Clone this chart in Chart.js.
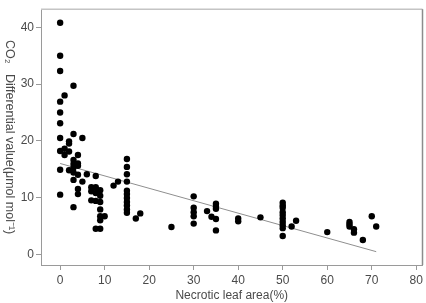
<!DOCTYPE html>
<html>
<head>
<meta charset="utf-8">
<script src="https://cdn.jsdelivr.net/npm/chart.js@4/dist/chart.umd.min.js"></script>
<style>
  html, body { margin: 0; padding: 0; background: #fff; }
  #wrap { width: 426px; height: 303px; position: relative; }
</style>
</head>
<body>
<div id="wrap"><canvas id="chart-1"></canvas></div>
<script>
/************************ data *****************************************************/

// necrotic leaf area (%) of each sample
const necroticArea = [
  0, 0, 0, 0, 0, 0, 0, 0, 0, 0,
  1, 1, 1,
  2, 2, 2, 2,
  3, 3, 3, 3, 3, 3, 3, 3,
  4, 4, 4, 4, 4, 4,
  5, 5,
  6,
  7, 7, 7,
  8, 8, 8, 8, 8,
  9, 9, 9, 9, 9, 9, 9,
  10, 12, 13,
  15, 15, 15, 15, 15, 15, 15, 15, 15, 15, 15,
  17, 18, 25,
  30, 30, 30, 30, 30,
  33, 34,
  35, 35, 35, 35, 35,
  40, 40, 45,
  50, 50, 50, 50, 50, 50, 50, 50, 50, 50,
  52, 53, 60,
  65, 65, 65, 66, 66,
  68, 70, 71
];

// CO2 differential value (umol mol-1) of each sample
const co2Diff = [
  40.8, 35.0, 32.3, 26.9, 25.0, 23.1, 20.5, 18.2, 14.9, 10.5,
  28.0, 18.6, 17.5,
  19.9, 19.5, 18.1, 14.8,
  29.7, 21.2, 16.6, 15.9, 15.3, 14.4, 13.1, 8.3,
  17.5, 16.0, 15.6, 14.0, 11.5, 10.6,
  20.5, 12.8,
  14.1,
  11.8, 11.1, 9.5,
  13.8, 11.8, 10.8, 9.4, 4.5,
  11.3, 10.3, 9.2, 7.9, 6.7, 6.0, 4.5,
  6.7, 12.1, 12.8,
  16.8, 15.4, 14.1, 12.8, 11.2, 10.6, 9.9, 9.2, 8.6, 7.9, 7.3,
  6.3, 7.2, 4.8,
  10.2, 8.2, 7.4, 6.7, 5.4,
  7.6, 6.6,
  8.9, 8.4, 8.0, 6.2, 4.2,
  6.3, 5.8, 6.5,
  9.1, 8.6, 8.2, 7.4, 6.9, 6.3, 5.7, 5.1, 4.6, 3.2,
  4.9, 5.9, 3.9,
  5.7, 5.3, 4.9, 4.4, 3.8,
  2.5, 6.7, 4.9
];

// fitted line end points
const trendX = [0, 71];
const trendY = [16.0, 0.45];

// tick labels
const xTicks = [0, 10, 20, 30, 40, 50, 60, 70, 80];
const yTicks = [0, 10, 20, 30, 40];

const xTitle = "Necrotic leaf area(%)";
const yTitle = "CO\u2082   Differential value(\u03bcmol mol\u207b\u00b9)";

/************************ building the datasets *********************************/

const points = necroticArea.map((v, i) => ({ x: v, y: co2Diff[i] }));
const trend = trendX.map((v, i) => ({ x: v, y: trendY[i] }));

const FONT = { family: "'Liberation Sans', Arial, sans-serif", size: 12 };
const TEXT = "#4a4a4a";
const AXIS = "#9a9a9a";

// top and right border of the plot box + y title (reads top to bottom)
const frame = {
  id: "frame",
  afterDraw(chart) {
    const a = chart.chartArea;
    const c = chart.ctx;
    c.save();
    c.lineWidth = 1.5;
    c.strokeStyle = "#c4c4c4";
    c.beginPath();
    c.moveTo(a.left, a.top);
    c.lineTo(a.right, a.top);
    c.stroke();
    c.strokeStyle = "#8c8c8c";
    c.beginPath();
    c.moveTo(a.right, a.top);
    c.lineTo(a.right, a.bottom);
    c.stroke();
    c.restore();

    c.save();
    c.translate(9, (a.top + a.bottom) / 2);
    c.rotate(Math.PI / 2);
    c.font = "12.5px " + FONT.family;
    c.fillStyle = TEXT;
    c.textAlign = "center";
    c.textBaseline = "middle";
    c.fillText(yTitle, 0, 0);
    c.restore();
  },
};

/************************* SCATTER CHART ******************************/

const ctx1 = document.getElementById("chart-1").getContext("2d");
const myChart1 = new Chart(ctx1, {
  type: "scatter",
  data: {
    datasets: [
      {
        label: "samples",
        data: points,
        backgroundColor: "#000",
        borderColor: "#000",
        pointRadius: 3.2,
        pointHoverRadius: 3.2,
        borderWidth: 0,
      },
      {
        type: "line",
        label: "fit",
        data: trend,
        borderColor: "#8f8f8f",
        borderWidth: 1,
        pointRadius: 0,
        fill: false,
      },
    ],
  },
  options: {
    responsive: true,
    maintainAspectRatio: false,
    animation: false,
    events: [],
    layout: {
      padding: { top: 7, right: 3, left: 0, bottom: 0 },
    },
    plugins: {
      legend: { display: false },
      tooltip: { enabled: false },
    },
    scales: {
      x: {
        type: "linear",
        min: -4.3,
        max: 81.4,
        afterFit: (s) => { s.height = 38; },
        afterBuildTicks: (s) => { s.ticks = xTicks.map((v) => ({ value: v })); },
        grid: { drawOnChartArea: false, drawTicks: true, tickLength: 5, color: AXIS },
        border: { display: true, color: AXIS, width: 1 },
        ticks: { color: TEXT, font: FONT, padding: 3, maxRotation: 0 },
        title: { display: true, text: xTitle, color: TEXT, font: FONT, padding: { top: 2, bottom: 0 } },
      },
      y: {
        type: "linear",
        min: -1.9,
        max: 43.2,
        afterFit: (s) => { s.width = 41; },
        afterBuildTicks: (s) => { s.ticks = yTicks.map((v) => ({ value: v })); },
        grid: { drawOnChartArea: false, drawTicks: true, tickLength: 5, color: AXIS },
        border: { display: true, color: AXIS, width: 1 },
        ticks: { color: TEXT, font: FONT, padding: 2 },
        title: { display: false },
      },
    },
  },
  plugins: [frame],
});
</script>
</body>
</html>
